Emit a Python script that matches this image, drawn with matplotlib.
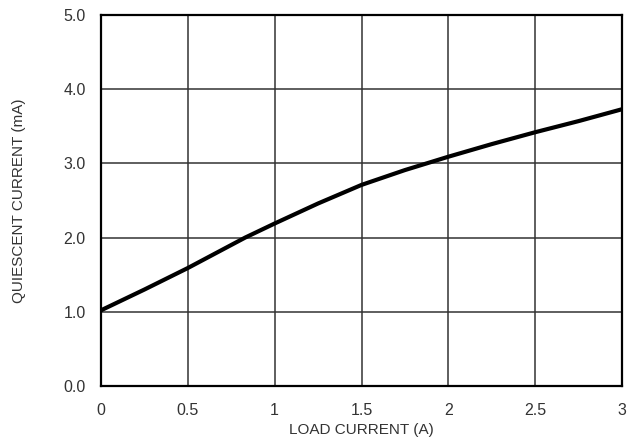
import matplotlib
matplotlib.use("Agg")
from matplotlib import pyplot as plt

plt.rcParams['font.family'] = ['Liberation Sans', 'DejaVu Sans']

# curve
loadCurrent = [0.0, 0.25, 0.5, 0.83, 1.0, 1.25, 1.5, 1.75, 2.0, 2.25, 2.5, 2.75, 3.0]
quiescent = [1.02, 1.30, 1.59, 2.0, 2.19, 2.46, 2.71, 2.91, 3.09, 3.26, 3.42, 3.57, 3.73]

xTicks = [0, 0.5, 1, 1.5, 2, 2.5, 3]
xLabels = ["0", "0.5", "1", "1.5", "2", "2.5", "3"]
yTicks = [0, 1, 2, 3, 4, 5]
yLabels = ["0.0", "1.0", "2.0", "3.0", "4.0", "5.0"]

fig = plt.figure(figsize=(6.28, 4.46), dpi=100)
ax = fig.add_axes([101/628, 1 - 386/446, 521/628, 371/446])

ax.plot(loadCurrent, quiescent, color='black', lw=3, solid_joinstyle='round', zorder=3)

ax.set_xlim(0, 3)
ax.set_ylim(0, 5)
ax.set_xticks(xTicks)
ax.set_xticklabels(xLabels)
ax.set_yticks(yTicks)
ax.set_yticklabels(yLabels)
ax.tick_params(length=0, labelsize=11.5, colors='#333333')
ax.tick_params(axis='x', pad=12)
ax.tick_params(axis='y', pad=11)
ax.grid(True, color='#333333', lw=1.1)
for s in ax.spines.values():
    s.set_linewidth(1.6)
    s.set_color('black')

ax.set_xlabel("LOAD CURRENT (A)", fontsize=11, color='#333333', labelpad=4)
ax.set_ylabel("QUIESCENT CURRENT (mA)", fontsize=11, color='#333333', labelpad=27)

fig.savefig("out.png", dpi=100)
